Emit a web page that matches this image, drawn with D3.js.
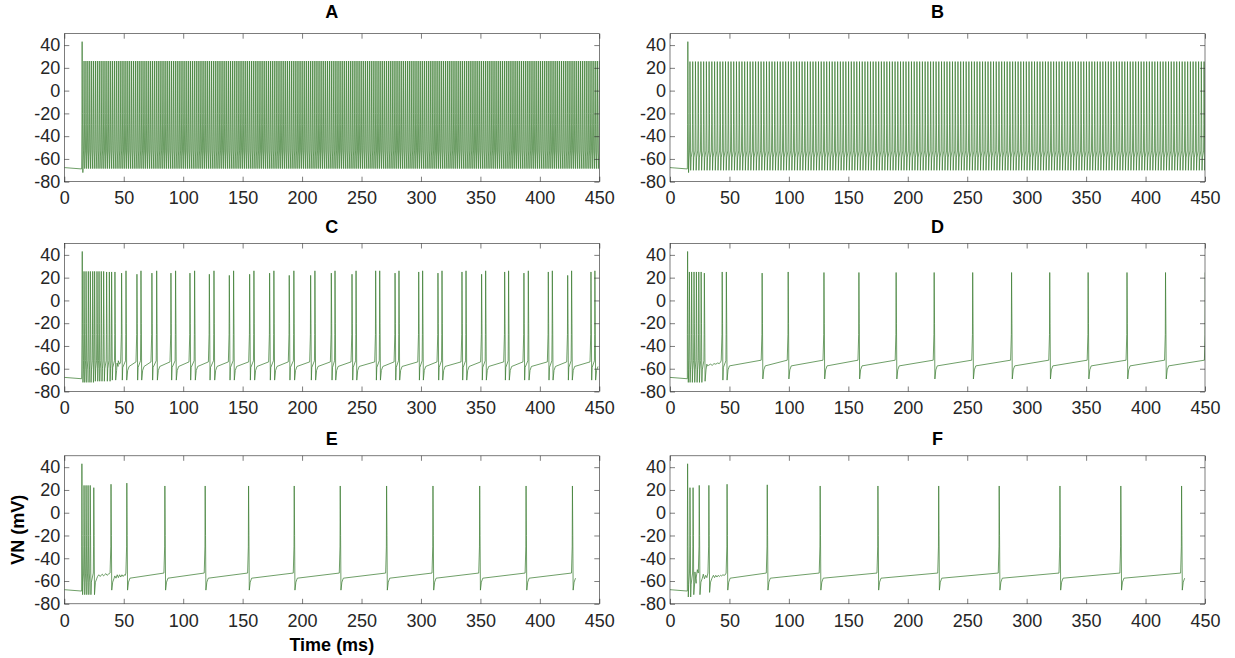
<!DOCTYPE html>
<html lang="en">
<head>
<meta charset="UTF-8">
<title>VN traces</title>
<script src="https://d3js.org/d3.v7.min.js"></script>
<style>
  body { margin: 0; background: #fff; }
  .tick text { font-family: Helvetica, "Liberation Sans", Arial, sans-serif; font-size: 18px; fill: #262626; }
  .tick line { stroke: #262626; stroke-width: 0.6; }
  .domain { display: none; }
  .title, .label { font-family: Helvetica, "Liberation Sans", Arial, sans-serif; font-weight: bold; font-size: 18px; fill: #000; }
</style>
</head>
<body>
<div id="chart"></div>
<script>
const timeTicks = [0, 50, 100, 150, 200, 250, 300, 350, 400, 450];
const vTicks = [-80, -60, -40, -20, 0, 20, 40];
const panelTitles = ["A", "B", "C", "D", "E", "F"];

// membrane potential before the stimulus (ms, mV)
const restKnots = [[0, -67.6], [14.6, -68.8]];

// A and B fire regular dense trains after the first spike
const firstSpike = [15.0, 43, -72];
const trainA = { start: 16.6, interval: 1.6, peak: 26, trough: -68.5 };
const trainB = { start: 16.8, interval: 2.3, peak: 25.5, trough: -70 };

// spike lists: [time ms, peak mV, trough mV]
const spikesC = [
  [15.1, 43, -72], [16.6, 25.5, -72], [18.3, 25.5, -72], [20.2, 25.5, -72], [21.9, 25.5, -72],
  [23.9, 25.5, -72], [25.5, 25.5, -71], [27.5, 25.5, -71], [29.2, 25.5, -71], [31.1, 25.5, -71],
  [33.1, 25.5, -71], [35.6, 25, -71], [37.9, 25, -71], [39.8, 25, -70], [42.6, 25, -70],
  [48.2, 24, -70], [51.9, 26, -70], [61.1, 23, -70], [64.5, 26, -70], [73.7, 24, -70], [77.7, 26, -70],
  [89.7, 24, -70], [93.6, 26, -70], [105.7, 24, -70], [109.6, 26, -70], [122.0, 23, -70], [125.9, 26, -70],
  [138.8, 22, -70], [142.4, 26, -70], [155.9, 23, -70], [159.5, 26, -70], [172.7, 24, -70], [176.3, 26, -70],
  [189.2, 22, -70], [193.1, 26, -70], [207.2, 22, -70], [210.8, 26, -70], [224.6, 24, -70], [227.7, 26, -70],
  [242.0, 23, -70], [245.4, 26, -70], [261.9, 26, -70], [265.3, 26, -70], [278.2, 24, -70], [281.5, 26, -70],
  [298.1, 25, -70], [301.4, 26, -70], [314.3, 24, -70], [317.7, 26, -70], [334.5, 25, -70], [337.9, 26, -70],
  [351.0, 23, -70], [354.4, 26, -70], [370.4, 25, -70], [373.7, 26, -70], [386.6, 24, -70], [390.3, 26, -70],
  [407.1, 25, -70], [410.5, 26, -70], [423.4, 22, -70], [426.7, 26, -70], [443.0, 25, -70], [446.3, 26, -70]
];
const spikesD = [
  [14.8, 43, -72], [16.3, 25, -72], [18.2, 25, -72], [20.2, 25, -72], [22.2, 25, -72], [24.2, 25, -72],
  [26.2, 25, -72], [28.9, 24, -71], [43.9, 25, -70], [47.4, 25, -70], [77.5, 24, -69], [99.4, 25, -69],
  [129.5, 24.5, -69], [158.9, 24.5, -69], [190.2, 24.5, -69], [222.2, 24.5, -69], [254.6, 24.5, -69],
  [287.3, 24.5, -69], [319.4, 24.5, -69], [351.7, 24.5, -69], [384.4, 24.5, -69], [416.8, 24.5, -69],
  [450.3, 24.5, -69]
];
const spikesE = [
  [14.8, 43, -72], [16.6, 24, -72], [18.3, 24, -72], [20.0, 24, -72], [21.8, 24, -72], [24.8, 22, -72],
  [39.3, 25, -68], [52.6, 26, -68], [84.6, 23.5, -68], [118.5, 23.5, -68], [155.0, 23.5, -68],
  [193.4, 23.5, -68], [232.1, 23.5, -68], [271.1, 23.5, -68], [310.1, 23.5, -68], [349.4, 23.5, -68],
  [388.4, 23.5, -68], [427.4, 23.5, -68]
];
const spikesF = [
  [14.8, 43, -74], [16.8, 22, -74], [19.4, 22, -72], [24.6, 24, -72], [32.7, 24, -70], [48.0, 25, -68],
  [81.8, 24.5, -68], [126.3, 23.5, -68], [174.9, 23.5, -68], [226.0, 23.5, -68], [276.9, 23.5, -68],
  [328.0, 23.5, -68], [379.2, 23.5, -68], [430.3, 23.5, -68]
];

// subthreshold wiggles between spikes (ms, mV)
const knotsC = [[44.4, -55], [45.4, -53], [46.5, -56]];
const knotsD = [[31.0, -56], [32.5, -57], [34, -56], [35.5, -57], [37, -55.5], [38.5, -56], [40, -55], [41.5, -55.5], [42.6, -54]];
const knotsE = [[28, -56], [29, -54.5], [30, -56], [31, -55], [32, -54], [33, -55.5], [34, -54.5], [35, -53.5], [36, -55], [37, -54], [38, -53.5],
  [42.5, -55.5], [43.5, -57.5], [44.5, -54.5], [45.5, -57], [46.5, -54.5], [47.5, -56.5], [48.5, -54.5], [49.5, -56], [50.5, -54.5], [51.3, -55]];
const knotsF = [[21.0, -52], [22.0, -62], [23.0, -50], [28, -54], [29, -58], [30, -55], [31, -57],
  [36.5, -55], [37.5, -57], [38.5, -55], [39.5, -56.5], [40.5, -55], [41.5, -56], [42.5, -55], [43.5, -55.5], [44.5, -54.5], [45.5, -55], [46.5, -54.5]];

const preV = [-54, -54, -54, -52.5, -53, -53];
const postV = [-58, -58, -58, -57.5, -57.5, -57.5];

const width = 1235, height = 658;
const colLeft = [64.3, 670];
const rowTop = [33.7, 243.5, 455.8];
const titleOffset = [16, 11, 11];
const plotW = 535, plotH = 148;

function trainSpikes(tr) {
  const out = [firstSpike];
  for (let t = tr.start; t < 452; t += tr.interval) out.push([t, tr.peak, tr.trough]);
  return out;
}

function buildTrace(spikes, knots, pre, post) {
  const pts = restKnots.concat(knots);
  spikes.forEach((s, i) => {
    const [t, peak, trough] = s;
    const gapPrev = i ? t - spikes[i - 1][0] : 0;
    const gapNext = i < spikes.length - 1 ? spikes[i + 1][0] - t : Infinity;
    if (gapPrev > 5) pts.push([t - 0.8, pre]);
    pts.push([t - 0.2, -30], [t, peak], [t + 0.3, -20], [t + 0.6, trough]);
    if (gapNext > 5) pts.push([t + 1.4, post - 3.5], [t + 2.6, post]);
    else {
      pts.push([t + 0.95, trough + 11]);
      if (gapNext > 1.45) pts.push([t + gapNext - 0.4, -53]);
    }
  });
  return pts.sort((a, b) => a[0] - b[0]);
}

const panels = [
  buildTrace(trainSpikes(trainA), [], preV[0], postV[0]),
  buildTrace(trainSpikes(trainB), [], preV[1], postV[1]),
  buildTrace(spikesC, knotsC, preV[2], postV[2]),
  buildTrace(spikesD, knotsD, preV[3], postV[3]),
  buildTrace(spikesE, knotsE, preV[4], postV[4]),
  buildTrace(spikesF, knotsF, preV[5], postV[5])
];

const svg = d3.select("#chart").append("svg")
  .attr("width", width).attr("height", height);

const fmt = d => String(d);   // plain hyphen minus like the original

panels.forEach((data, i) => {
  const row = Math.floor(i / 2);
  const left = colLeft[i % 2], top = rowTop[row];
  const g = svg.append("g").attr("transform", `translate(${left},${top})`);

  const x = d3.scaleLinear().domain([0, 450]).range([0, plotW]);
  const y = d3.scaleLinear().domain([-80, 50]).range([plotH, 0]);

  g.append("clipPath").attr("id", "clip" + i)
    .append("rect").attr("width", plotW).attr("height", plotH);

  g.append("path")
    .datum(data)
    .attr("clip-path", `url(#clip${i})`)
    .attr("fill", "none")
    .attr("stroke", "#3f7f35")
    .attr("stroke-width", 0.75)
    .attr("stroke-linejoin", "round")
    .attr("d", d3.line().x(d => x(d[0])).y(d => y(d[1])));

  // box with inward ticks on all sides
  g.append("g").attr("transform", `translate(0,${plotH})`)
    .call(d3.axisBottom(x).tickValues(timeTicks).tickFormat(fmt).tickSize(-5).tickSizeOuter(0).tickPadding(10));
  g.append("g")
    .call(d3.axisTop(x).tickValues(timeTicks).tickSize(-5).tickSizeOuter(0).tickFormat(""));
  g.append("g")
    .call(d3.axisLeft(y).tickValues(vTicks).tickFormat(fmt).tickSize(-5).tickSizeOuter(0).tickPadding(4));
  g.append("g").attr("transform", `translate(${plotW},0)`)
    .call(d3.axisRight(y).tickValues(vTicks).tickSize(-5).tickSizeOuter(0).tickFormat(""));
  g.append("rect")
    .attr("width", plotW).attr("height", plotH)
    .attr("fill", "none").attr("stroke", "#262626").attr("stroke-width", 0.6);

  g.append("text").attr("class", "title")
    .attr("x", plotW / 2).attr("y", -titleOffset[row])
    .attr("text-anchor", "middle")
    .text(panelTitles[i]);
});

svg.append("text").attr("class", "label")
  .attr("transform", `translate(24,${rowTop[2] + plotH / 2}) rotate(-90)`)
  .attr("text-anchor", "middle")
  .text("VN (mV)");

svg.append("text").attr("class", "label")
  .attr("x", colLeft[0] + plotW / 2).attr("y", 651)
  .attr("text-anchor", "middle")
  .text("Time (ms)");
</script>
</body>
</html>
